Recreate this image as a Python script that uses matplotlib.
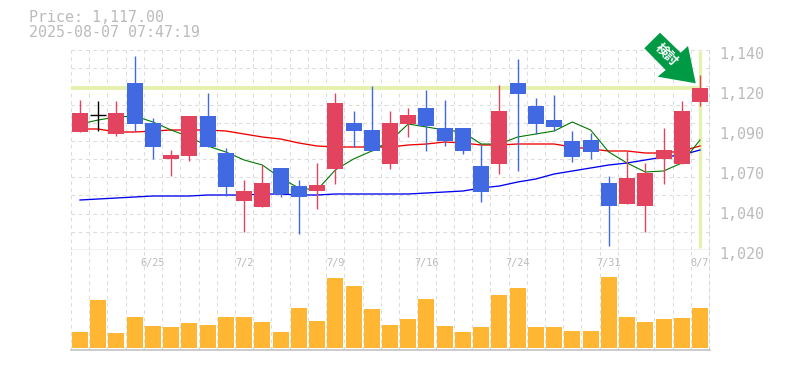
import matplotlib
matplotlib.use("Agg")
import matplotlib.pyplot as plt
from matplotlib.patches import Polygon
from matplotlib.transforms import ScaledTranslation
import numpy as np

opens = [1090.8,1101,1089.6,1120.2,1096.2,1074.6,1076.4,1100.4,1078.2,1049.4,1045.8,1069.2,1058.4,1055.4,1068.6,
         1096.2,1092,1071.6,1095.6,1105.2,1093.2,1093.2,1070.4,1071.6,1120.2,1106.4,1098,1085.4,1086,1060.2,
         1047.6,1046.4,1074.6,1071.6,1108.8]
closes = [1102.2,1101,1102.2,1095.6,1081.8,1077,1100.4,1081.8,1057.8,1055.4,1060.2,1053.6,1051.8,1059,1108.2,
          1091.4,1079.4,1096.2,1101,1094.4,1085.4,1079.4,1054.8,1103.4,1113.6,1095.6,1093.8,1075.8,1078.8,1046.4,
          1063.2,1066.2,1080,1103.4,1117.2]
highs = [1110,1109.4,1109.4,1136.4,1099.2,1080,1100.4,1114.2,1081.2,1062,1071,1069.2,1062,1072.2,1114.2,
         1103.4,1118.4,1103.4,1105.2,1116,1110,1093.2,1083,1119,1134.6,1111.2,1113,1091.4,1090.2,1064.4,
         1079.4,1072.2,1093.2,1109.4,1125]
lows = [1090.8,1091.4,1088.4,1091.4,1074.6,1064.4,1073.4,1081.8,1052.4,1030.8,1045.8,1051.8,1029.6,1044.6,1059.6,
        1081.8,1079.4,1068.6,1087.8,1079.4,1082.4,1077.6,1048.8,1065.6,1067.4,1089.6,1091.4,1072.8,1074.6,1022.4,
        1047.6,1030.8,1059.6,1071.6,1106.4]
colors = ["r","k","r","b","b","r","r","b","b","r","r","b","b","r","r","b","b","r","r","b","b","b","b","r","b",
          "b","b","b","b","b","r","r","r","r","r"]
ma_short = [1095.6,1098,1099.8,1100.4,1096.8,1092,1087.8,1082.4,1078.8,1074,1071,1063.2,1057.2,1056,1068,1074.6,
            1079.4,1085.4,1095.6,1093.8,1092,1090.8,1083.6,1083.6,1087.8,1089.6,1091.4,1096.8,1092,1078.8,1072.2,
            1066.8,1067.4,1072.2,1086]
ma_mid = [1092.6,1092.6,1090.8,1090.8,1091.4,1092,1092,1092,1091.4,1089.6,1087.8,1086.6,1084.2,1082.4,1081.8,
          1081.8,1081.8,1081.8,1083,1083.6,1084.8,1084.2,1083,1083,1083.6,1083.6,1083.6,1081.8,1080.6,1079.4,
          1079.4,1078.2,1078.2,1079.4,1082.4]
ma_long = [1050,1050.6,1051.2,1051.8,1052.4,1052.4,1052.4,1053,1053,1053,1053.6,1053.6,1053,1053,1053.6,1053.6,
           1053.6,1053.6,1053.6,1054.2,1054.8,1055.4,1057.2,1058.4,1060.8,1062.6,1065.6,1067.4,1069.2,1071,
           1072.2,1074,1075.8,1077,1080]
volumes = [16,48,15,31,22,21,25,23,31,31,26,16,40,27,70,62,39,23,29,49,22,16,21,53,60,21,21,17,17,71,31,26,29,30,40]
price_ticks = [1140,1116,1092,1068,1044,1020]
price_labels = ["1,140","1,120","1,090","1,070","1,040","1,020"]
date_pos = [4,9,14,19,24,29,34]
date_labels = ["6/25","7/2","7/9","7/16","7/24","7/31","8/7"]
last_price = 1117.0
title_lines = ["Price: 1,117.00","2025-08-07 07:47:19"]
badge = "検討"

W, H = 785, 370
GRAY = "#bdbdbd"; GRID = "#dcdcdc"; TEXT = "#bbbbbb"
RED = "#E2435F"; BLUE = "#4169E1"; ORANGE = "#FFB733"; HILITE = "#E4F2AE"; GREEN = "#009944"
PALETTE = {"r": RED, "b": BLUE, "k": "black"}
plt.rcParams["font.family"] = ["DejaVu Sans Mono"]

fig = plt.figure(figsize=(W/100, H/100), dpi=100, facecolor="white")
L, R = 71, 710
ax = fig.add_axes([L/W, 1-250/H, (R-L)/W, 200/H], zorder=2)
vol = fig.add_axes([L/W, 1-350/H, (R-L)/W, 100/H], zorder=1, sharex=ax)
ax.patch.set_visible(False)

x = np.arange(len(opens))
step = 18.235
xlim = ((L-80)/step, (R-80)/step)
edges = np.arange(-0.5, 35, 1.0)
for a in (ax, vol):
    a.set_xlim(*xlim)
    for e in edges:
        a.axvline(e, color=GRID, lw=0.75, ls=(0, (3.5, 3.5)), zorder=0)
    for s in a.spines.values():
        s.set_visible(False)
    a.axvline(xlim[1], color=GRAY, lw=1.0, zorder=1)
    a.tick_params(length=0)

# price panel
ax.set_ylim(1020, 1140)
for g in np.linspace(1020, 1140, 12):
    ax.axhline(g, color=GRID, lw=0.75, ls=(0, (3.5, 3.5)), zorder=0)
ax.axhline(1020, color=GRAY, lw=1.0, zorder=1)
ax.axhline(last_price, xmax=(34-xlim[0])/(xlim[1]-xlim[0]), color=HILITE, lw=2.8, zorder=1)
ax.vlines(34, 1021, 1139.5, color=HILITE, lw=2.4, zorder=1)

ax.plot(x, ma_long, color="#0000EE", lw=0.95, zorder=2)
ax.plot(x, ma_mid, color="#EE0000", lw=0.95, zorder=2)
ax.plot(x, ma_short, color="#007700", lw=0.8, zorder=2)

for i in x:
    c = PALETTE[colors[i]]
    ax.vlines(i, lows[i], highs[i], color=c, lw=1.0, zorder=3)
    if colors[i] == "k":
        ax.hlines(opens[i], i-0.44, i+0.44, color=c, lw=1.0, zorder=3)
    else:
        ax.bar(i, abs(closes[i]-opens[i]), bottom=min(opens[i], closes[i]), width=0.877,
               color=c, linewidth=0, zorder=4)

ax.yaxis.tick_right()
ax.set_yticks(price_ticks, price_labels, fontsize=10.8, color=TEXT)
ax.tick_params(axis="y", pad=6.5)
shift = ScaledTranslation(0, -2.6/100, fig.dpi_scale_trans)
for lab in ax.get_yticklabels():
    lab.set_transform(lab.get_transform() + shift)
    lab.set_clip_on(False)
ax.set_xticks(date_pos, date_labels)
ax.tick_params(axis="x", labelsize=7.4, labelcolor=TEXT, pad=5.5, labelbottom=True)

# volume panel
vol.set_ylim(-2, 98)
vol.bar(x, volumes, width=0.877, color=ORANGE, linewidth=0, zorder=3)
vol.axhline(-2, color=GRAY, lw=1.1, zorder=4, clip_on=False)
vol.set_yticks([])
vol.tick_params(axis="x", labelbottom=False)

# header text
fig.text(29/W, 1-18/H, title_lines[0], fontsize=10.8, color=TEXT, va="center")
fig.text(29/W, 1-32.5/H, title_lines[1], fontsize=10.8, color=TEXT, va="center")

# badge arrow
pts = [(660,32.7),(680.7,52.7),(688,46),(695.7,83.3),(657.7,76.7),(665.7,70),(644.3,48.3)]
fig.add_artist(Polygon([(px/W, 1-py/H) for px, py in pts], closed=True, transform=fig.transFigure,
                       facecolor=GREEN, edgecolor="none", zorder=5))
fig.text(666/W, 1-55/H, badge, family=["Noto Sans CJK JP"], fontsize=9.4, fontweight="bold", color="white",
         rotation=-45, ha="center", va="center", rotation_mode="anchor", zorder=6)

fig.savefig("out.png", dpi=100, facecolor="white")
